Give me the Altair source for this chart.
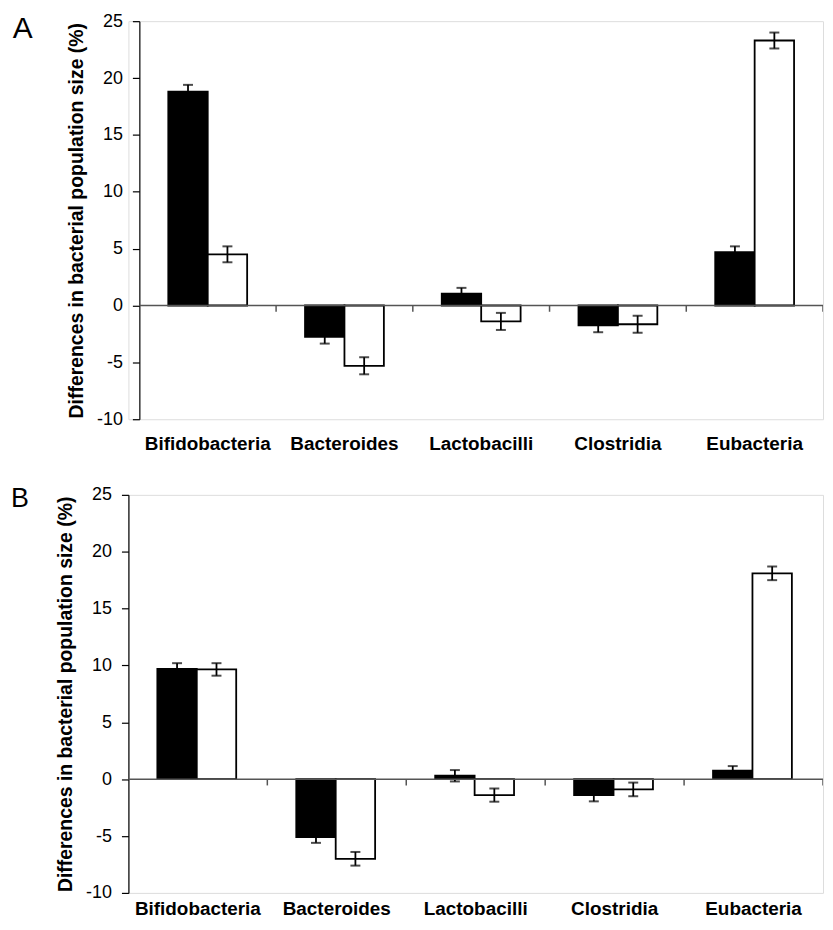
import altair as alt
import pandas as pd

categories = ["Bifidobacteria", "Bacteroides", "Lactobacilli", "Clostridia", "Eubacteria"]
groups = ["filled", "open"]

# Panel A
a_filled = [18.8, -2.75, 1.05, -1.75, 4.7]
a_filled_err = [0.6, 0.6, 0.5, 0.6, 0.5]
a_open = [4.5, -5.3, -1.4, -1.65, 23.3]
a_open_err = [0.7, 0.75, 0.75, 0.75, 0.7]

# Panel B
b_filled = [9.7, -5.1, 0.3, -1.4, 0.75]
b_filled_err = [0.5, 0.5, 0.5, 0.55, 0.4]
b_open = [9.65, -7.0, -1.4, -0.9, 18.1]
b_open_err = [0.55, 0.6, 0.58, 0.6, 0.6]

y_ticks = [-10, -5, 0, 5, 10, 15, 20, 25]
y_title = "Differences in bacterial population size (%)"
FONT = "Liberation Sans"
W = 698
H = 400


def make_df(filled, filled_err, opn, opn_err):
    rows = []
    for c, v, e in zip(categories, filled, filled_err):
        rows.append({"cat": c, "grp": "filled", "val": v, "lo": v - e, "hi": v + e})
    for c, v, e in zip(categories, opn, opn_err):
        rows.append({"cat": c, "grp": "open", "val": v, "lo": v - e, "hi": v + e})
    return pd.DataFrame(rows)


def panel(df, letter, letter_x, letter_y, letter_size, shift, label_pad):
    xaxis = alt.Axis(title=None, labelFont=FONT, labelFontWeight="bold", labelFontSize=19,
                     labelColor="black", ticks=False, tickSize=0, domain=False, grid=False,
                     labelPadding=label_pad, labelAngle=0)
    xscale = alt.Scale(domain=categories, paddingInner=0, paddingOuter=0,
                       range=[shift, W])
    yaxis = alt.Axis(values=y_ticks, title=y_title, titleFont=FONT, titleFontWeight="bold",
                     titleFontSize=19.5, titleColor="black", titlePadding=10,
                     labelFont=FONT, labelFontSize=18, labelColor="black", labelPadding=10,
                     labelExpr="'' + datum.value",
                     tickSize=7, tickColor="black", tickWidth=1.2, domainColor="black",
                     domainWidth=1.2, grid=False, offset=-shift)
    yscale = alt.Scale(domain=[-10, 25], nice=False, zero=False)

    def X(**kw):
        return alt.X("cat:N", sort=categories, scale=xscale, axis=xaxis, **kw)

    def Y(field):
        return alt.Y(field, type="quantitative", scale=yscale, axis=yaxis)

    xoff = alt.XOffset("grp:N", sort=groups,
                       scale=alt.Scale(domain=groups, paddingInner=0, paddingOuter=0.734))

    base = alt.Chart(df)
    bars = base.mark_bar(stroke="black", strokeWidth=1.8).encode(
        x=X(), xOffset=xoff, y=Y("val"),
        color=alt.Color("grp:N", scale=alt.Scale(domain=groups, range=["#000000", "#ffffff"]),
                        legend=None),
    )
    err = base.mark_rule(color="black", strokeWidth=1.8).encode(
        x=X(), xOffset=xoff, y=Y("lo"), y2="hi")
    cap_lo = base.mark_tick(color="black", thickness=2, size=10, orient="horizontal").encode(
        x=X(), xOffset=xoff, y=Y("lo"))
    cap_hi = base.mark_tick(color="black", thickness=2, size=10, orient="horizontal").encode(
        x=X(), xOffset=xoff, y=Y("hi"))

    zero_df = pd.DataFrame({"z": [0]})
    zero = alt.Chart(zero_df).mark_rule(color="#555555", strokeWidth=1.5).encode(
        y=Y("z"), x=alt.value(shift), x2=alt.value(W))

    tick_df = pd.DataFrame({"cat": categories, "t0": [0] * 5, "t1": [-0.55] * 5})
    ticks = alt.Chart(tick_df).mark_rule(color="#555555", strokeWidth=1.5, clip=True).encode(
        x=X(bandPosition=1), y=Y("t0"), y2="t1")

    lab = alt.Chart(pd.DataFrame({"t": [letter]})).mark_text(
        font=FONT, fontSize=letter_size, align="left", baseline="alphabetic", color="black"
    ).encode(text="t:N", x=alt.value(letter_x), y=alt.value(letter_y))

    return alt.layer(bars, err, cap_lo, cap_hi, zero, ticks, lab).properties(width=W, height=H)


dfA = make_df(a_filled, a_filled_err, a_open, a_open_err)
dfB = make_df(b_filled, b_filled_err, b_open, b_open_err)

pA = panel(dfA, "A", -116.3, 16.7, 30, 11, 15)
pB = panel(dfB, "B", -118.0, 12.3, 27, 0, 7)

PAD = {"left": 2, "top": 1, "right": 0, "bottom": 0}

chart = alt.concat(pA, pB, columns=1, spacing=30, padding=PAD).configure_view(
    strokeWidth=0
).configure(background="white", padding=PAD)

chart.save("out.html", embed_options={"renderer": "svg", "actions": False})
